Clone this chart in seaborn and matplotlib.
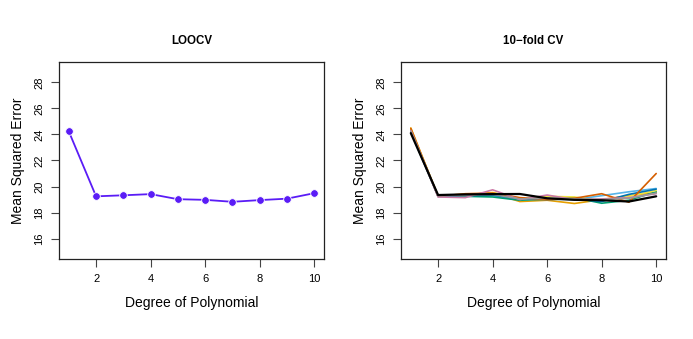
import numpy as np
import pandas as pd
import matplotlib
matplotlib.use("Agg")
import matplotlib.pyplot as plt
import seaborn as sns

degrees = [1, 2, 3, 4, 5, 6, 7, 8, 9, 10]
loocv_mse = [24.23, 19.25, 19.33, 19.42, 19.03, 18.98, 18.83, 18.96, 19.07, 19.49]

run_names = ["orange", "skyblue", "green", "yellow", "blue", "vermilion", "pink", "gray", "black"]
cv_orange    = [24.50, 19.25, 19.40, 19.50, 18.85, 18.95, 18.70, 19.00, 19.30, 19.55]
cv_skyblue   = [24.30, 19.25, 19.25, 19.30, 19.00, 19.05, 19.00, 19.30, 19.60, 19.85]
cv_green     = [24.20, 19.25, 19.25, 19.20, 18.95, 19.05, 19.15, 18.72, 18.95, 19.60]
cv_yellow    = [24.40, 19.30, 19.30, 19.55, 19.10, 19.25, 19.20, 18.90, 19.25, 19.70]
cv_blue      = [24.30, 19.25, 19.30, 19.35, 19.05, 19.00, 19.05, 18.85, 19.40, 19.80]
cv_vermilion = [24.45, 19.25, 19.45, 19.50, 19.15, 19.00, 19.10, 19.45, 18.80, 21.00]
cv_pink      = [24.30, 19.20, 19.15, 19.75, 19.00, 19.35, 19.00, 19.05, 19.15, 19.45]
cv_gray      = [24.25, 19.30, 19.35, 19.40, 19.05, 19.10, 19.05, 19.00, 19.10, 19.50]
cv_black     = [24.10, 19.35, 19.40, 19.42, 19.43, 19.10, 18.98, 18.95, 18.85, 19.25]
cv_runs = [cv_orange, cv_skyblue, cv_green, cv_yellow, cv_blue, cv_vermilion, cv_pink, cv_gray, cv_black]

palette = {"orange": "#E69F00", "skyblue": "#56B4E9", "green": "#009E73", "yellow": "#F0E442",
           "blue": "#0072B2", "vermilion": "#D55E00", "pink": "#CC79A7", "gray": "#999999",
           "black": "#000000"}

sns.set_style("white")
plt.rcParams['font.family'] = ['Liberation Sans', 'DejaVu Sans']
plt.rcParams['text.color'] = 'black'
plt.rcParams['axes.labelcolor'] = 'black'
plt.rcParams['xtick.color'] = 'black'
plt.rcParams['ytick.color'] = 'black'

fig = plt.figure(figsize=(6.93, 3.39), dpi=100)
ax1 = fig.add_axes([59/693, 80/339, 265/693, 197/339])
ax2 = fig.add_axes([401/693, 80/339, 265/693, 197/339])

df_loo = pd.DataFrame({"degree": degrees, "mse": loocv_mse})
sns.lineplot(data=df_loo, x="degree", y="mse", ax=ax1, color="#5A1CF6", lw=1.3,
             marker="o", markersize=5.5, markeredgecolor="white", markeredgewidth=0.6)

rows = []
for name, vals in zip(run_names, cv_runs):
    for d, v in zip(degrees, vals):
        rows.append({"degree": d, "mse": v, "run": name})
df_cv = pd.DataFrame(rows)
sns.lineplot(data=df_cv[df_cv.run != "black"], x="degree", y="mse", hue="run",
             hue_order=run_names[:-1], palette=palette, ax=ax2, lw=1.2, legend=False)
sns.lineplot(data=df_cv[df_cv.run == "black"], x="degree", y="mse", ax=ax2,
             color="black", lw=1.6, legend=False)

for ax, title in [(ax1, "LOOCV"), (ax2, "10\u2212fold CV")]:
    ax.set_xlim(0.64, 10.36)
    ax.set_ylim(14.44, 29.56)
    ax.set_xticks([2, 4, 6, 8, 10])
    ax.set_yticks([16, 18, 20, 22, 24, 26, 28])
    ax.tick_params(axis="both", which="both", direction="out", length=5.5, width=0.8,
                   color="#444444", labelcolor="black", labelsize=8, pad=5,
                   bottom=True, left=True)
    for lab in ax.get_yticklabels():
        lab.set_rotation(90)
        lab.set_va("center")
    for sp in ax.spines.values():
        sp.set_visible(True)
        sp.set_color("#222222")
        sp.set_linewidth(0.9)
    ax.set_xlabel("Degree of Polynomial", fontsize=10, labelpad=9, color="black")
    ax.set_ylabel("Mean Squared Error", fontsize=10, labelpad=7, color="black")
    ax.set_title(title, fontsize=8.3, fontweight="bold", pad=13, color="black")
    ax.grid(False)

fig.savefig("out.png", dpi=100, facecolor="white")
